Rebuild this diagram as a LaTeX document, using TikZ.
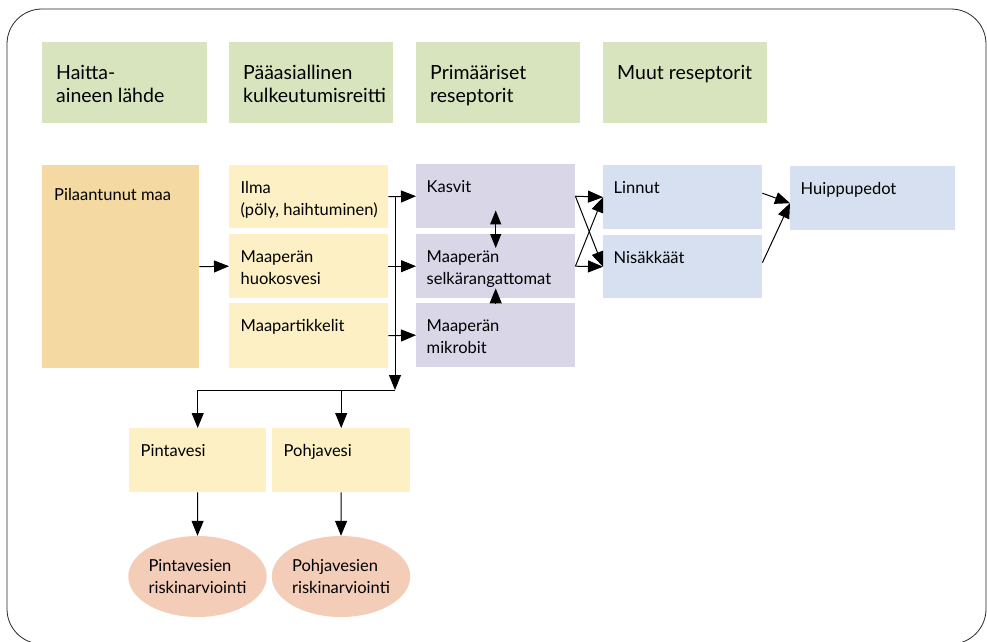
\documentclass[tikz,border=0pt]{standalone}
\usepackage{fontspec}
\setmainfont{Lato}
\usetikzlibrary{arrows.meta,positioning,shapes.geometric,calc}

\definecolor{headgreen}{HTML}{D7E4BD}
\definecolor{srctan}{HTML}{F4D9A2}
\definecolor{pathyellow}{HTML}{FDF0C5}
\definecolor{reclilac}{HTML}{D9D6E8}
\definecolor{recblue}{HTML}{D6E0F0}
\definecolor{riskpink}{HTML}{F4CDB9}

\newcommand\hdfont{\fontsize{19.5}{23}\selectfont}
\newcommand\bdfont{\fontsize{16.5}{22}\selectfont}

% box with its text in the upper left corner
\def\bx[#1](#2)(#3,#4)(#5,#6)#7{%
  \node[box,#1,minimum width=#5pt,minimum height=#6pt] (#2) at (#3,#4) {};
  \node[txt,#1 txt] (#2-txt) at (#2.north west) {\strut#7};}

\begin{document}
\begin{tikzpicture}[x=1pt,y=-1pt,
    box/.style={anchor=north west,inner sep=0pt,draw=none},
    txt/.style={anchor=north west,inner sep=0pt,align=left,font=\bdfont},
    head/.style={fill=headgreen}, head txt/.style={font=\hdfont,xshift=14pt,yshift=-21pt},
    src/.style={fill=srctan}, src txt/.style={xshift=12pt,yshift=-19.6pt},
    path/.style={fill=pathyellow}, path txt/.style={xshift=11.5pt,yshift=-12.6pt},
    rec/.style={fill=reclilac}, rec txt/.style={xshift=10.5pt,yshift=-12.6pt},
    oth/.style={fill=recblue}, oth txt/.style={xshift=10.5pt,yshift=-12.6pt},
    risk/.style={ellipse,fill=riskpink,inner sep=0pt,minimum width=137pt,minimum height=81pt,align=left,font=\bdfont},
    arr/.style={-{Triangle[length=15pt,width=12pt]},line width=1pt},
    darr/.style={{Triangle[length=14pt,width=11pt]}-{Triangle[length=14pt,width=11pt]},line width=1pt}]
    
    \useasboundingbox (0,0) rectangle (987,641);
    \draw[line width=0.8pt,black!85,rounded corners=35pt] (7,9) rectangle (986,644);
    
    %%%%% headings %%%%%
    \bx[head](h1)(42,42)(165,81){Haitta-\\aineen lähde}
    \bx[head](h2)(229,42)(164,81){Pääasiallinen\\kulkeutumisreitti}
    \bx[head](h3)(416,42)(164,81){Primääriset\\reseptorit}
    \bx[head](h4)(603,42)(164,81){Muut reseptorit}
    
    %%%%% source and pathways %%%%%
    \bx[src](maa)(42,165)(157,203){Pilaantunut maa}
    \bx[path](ilma)(229,165)(159,63){Ilma\\(pöly, haihtuminen)}
    \bx[path](huok)(229,234)(159,64){Maaperän\\huokosvesi}
    \bx[path](part)(229,303)(159,65){Maapartikkelit}
    
    %%%%% receptors %%%%%
    \bx[rec](kasvit)(416,164)(159,64){Kasvit}
    \bx[rec](selk)(416,234)(159,64){Maaperän\\selkärangattomat}
    \bx[rec](mikro)(416,303)(159,64){Maaperän\\mikrobit}
    \bx[oth](linnut)(603,165)(159,64){Linnut}
    \bx[oth](nisak)(603,235)(159,63){Nisäkkäät}
    \bx[oth](huippu)(790,166)(165,64){Huippupedot}
    
    %%%%% waters %%%%%
    \bx[path](pinta)(129,428)(137,64){Pintavesi}
    \bx[path](pohja)(272,428)(138,64){Pohjavesi}
    \node[risk] (pintaR) at (197.5,576.5) {Pintavesien\\riskinarviointi};
    \node[risk] (pohjaR) at (341,576.5) {Pohjavesien\\riskinarviointi};
    
    %%%%% connectors %%%%%
    \draw[arr] (maa.east) -- (huok.west);
    \draw[arr] (ilma.east) -- (kasvit.west);
    \draw[arr] (huok.east) -- (selk.west);
    \draw[arr] (part.east) -- (mikro.west);
    
    \coordinate (jn) at (395,390);
    \draw[arr] (jn |- ilma.east) -- (jn);
    \draw[arr] (jn) -| (pinta.north);
    \draw[arr] (jn -| pohja.north) -- (pohja.north);
    
    \draw[darr] ([yshift=18pt]kasvit.south) -- ([yshift=-14pt]selk.north);
    \draw[arr] (mikro.north) -- ([yshift=10pt]selk.south);
    
    \foreach \a in {kasvit,selk}
      \foreach \b in {linnut,nisak}
        \draw[arr] (\a.east) -- (\b.west);
    \draw[arr] ([yshift=4pt]linnut.east) -- ([yshift=-5pt]huippu.west);
    \draw[arr] ([yshift=4pt]nisak.east) -- ([yshift=-5pt]huippu.west);
    
    \draw[arr] (pinta.south) -- (pintaR.north);
    \draw[arr] (pohja.south) -- (pohjaR.north);
\end{tikzpicture}
\end{document}
